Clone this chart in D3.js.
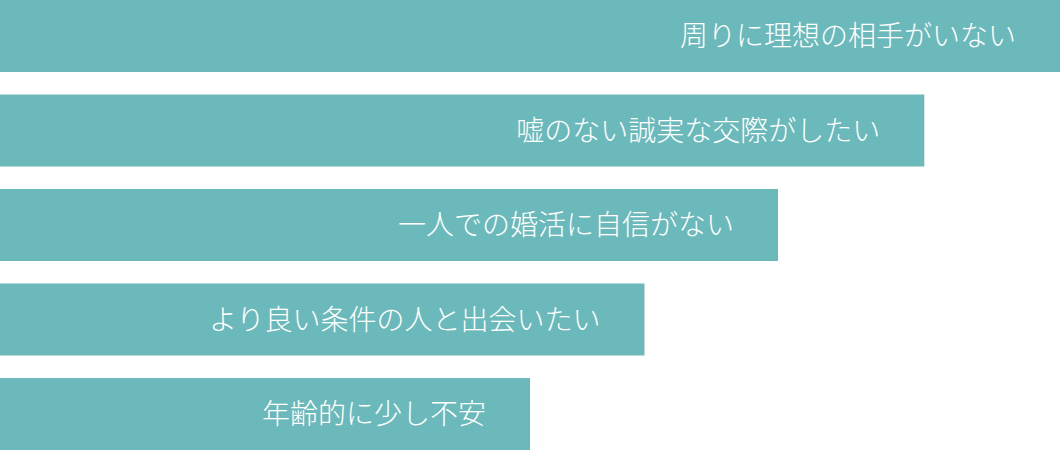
<!DOCTYPE html>
<html><head><meta charset="utf-8">
<script src="https://cdn.jsdelivr.net/npm/d3@7"></script>
<style>html,body{margin:0;padding:0;background:#fff;overflow:hidden}</style>
</head><body>
<svg id="c" width="1060" height="450"></svg>
<script>
const categories = ["周りに理想の相手がいない","嘘のない誠実な交際がしたい","一人での婚活に自信がない","より良い条件の人と出会いたい","年齢的に少し不安"];
const values = [100, 87.2, 73.4, 60.8, 50];

const W = 1060, H = 450;
const svg = d3.select("#c");
const x = d3.scaleLinear().domain([0, 100]).range([0, W]);
const y = d3.scaleBand().domain(categories).range([0, H]).paddingInner(0.238).paddingOuter(0);

const g = svg.selectAll("g.bar").data(categories).join("g").attr("class","bar");
g.append("rect")
  .attr("x", 0)
  .attr("y", d => y(d))
  .attr("width", (d,i) => x(values[i]))
  .attr("height", y.bandwidth())
  .attr("fill", "#6cb9bb");
g.append("text")
  .attr("x", (d,i) => x(values[i]) - 44)
  .attr("y", d => y(d) + y.bandwidth()/2)
  .attr("dy", "0.36em")
  .attr("text-anchor", "end")
  .attr("fill", "#fff")
  .style("font-family", "'Noto Sans CJK JP', 'Noto Sans', sans-serif")
  .style("font-weight", "300")
  .style("font-size", "28px")
  .text(d => d);
</script>
</body></html>
